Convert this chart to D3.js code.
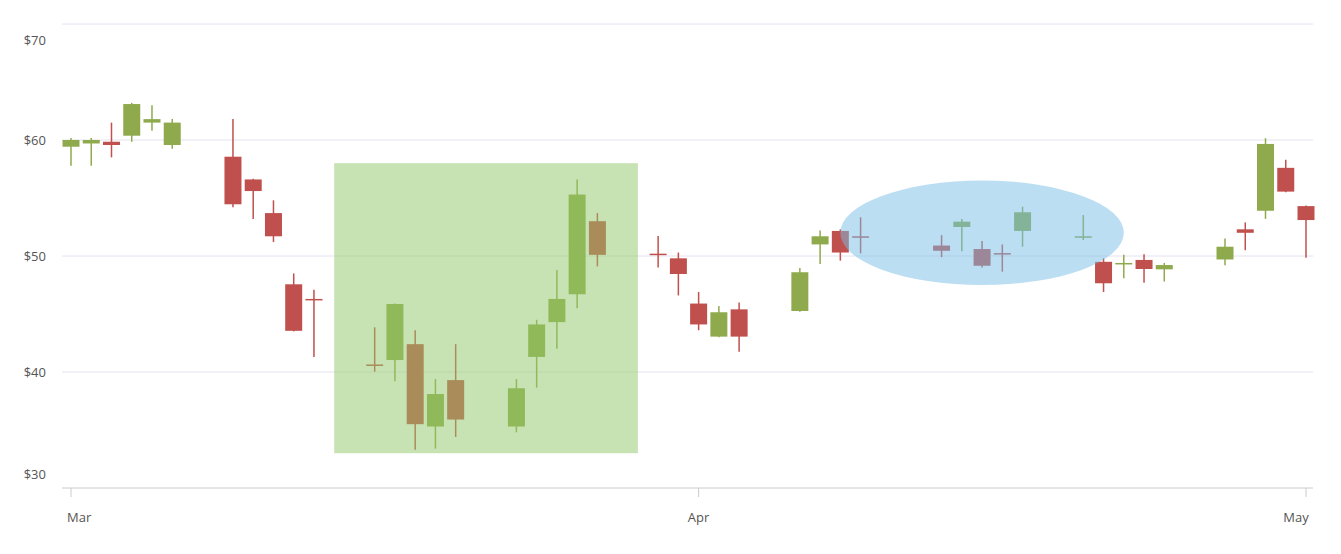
<!DOCTYPE html>
<html>
<head>
<meta charset="utf-8">
<script src="https://cdn.jsdelivr.net/npm/d3@7"></script>
<style>
body { margin: 0; background: #fff; }
text { font-family: "Segoe UI", "Open Sans", sans-serif; font-size: 13px; fill: #555; }
</style>
</head>
<body>
<svg width="1341" height="554"></svg>
<script>
var days = ['03-01','03-02','03-03','03-04','03-05','03-06','03-09','03-10','03-11','03-12','03-13',
  '03-16','03-17','03-18','03-19','03-20','03-23','03-24','03-25','03-26','03-27',
  '03-30','03-31','04-01','04-02','04-03','04-06','04-07','04-08','04-09',
  '04-13','04-14','04-15','04-16','04-17','04-20','04-21','04-22','04-23','04-24',
  '04-27','04-28','04-29','04-30','05-01'];
var open  = [59.42,59.7,59.85,60.37,61.5,59.57,58.56,56.6,53.7,47.56,46.3,40.65,41.03,42.4,35.3,39.3,35.3,41.3,44.3,46.7,53.0,50.2,49.8,45.9,43.05,45.4,45.26,51.0,52.16,51.7,50.9,52.5,50.6,50.25,52.16,51.65,49.5,49.35,49.66,48.85,49.7,52.3,53.9,57.6,54.3];
var high  = [60.17,60.17,61.5,63.2,63.0,61.8,61.8,56.65,54.8,48.5,47.1,43.85,45.9,43.6,39.4,42.4,39.4,44.5,48.8,56.6,53.7,51.72,50.3,46.9,45.7,46.0,48.97,52.2,52.3,53.34,51.8,53.2,51.3,51.0,54.25,53.53,49.8,50.1,50.15,49.4,51.5,52.9,60.15,58.3,54.35];
var low   = [57.78,57.78,58.5,59.85,60.8,59.25,54.2,53.2,51.2,43.5,41.3,40.03,39.2,33.3,33.4,34.4,34.8,38.65,42.0,45.5,49.1,49.0,46.6,43.6,43.0,41.75,45.2,49.3,49.6,50.23,49.9,50.4,49.0,48.65,50.8,51.38,46.9,48.08,47.7,47.8,49.2,50.5,53.2,55.5,49.85];
var close = [60.0,60.0,59.57,63.1,61.8,61.5,54.46,55.6,51.7,43.55,46.2,40.6,45.86,35.5,38.1,35.9,38.6,44.1,46.3,55.3,50.1,50.15,48.45,44.1,45.15,43.05,48.6,51.7,50.3,51.65,50.45,52.96,49.16,50.2,53.77,51.7,47.65,49.4,48.88,49.22,50.8,52.0,59.66,55.55,53.1];
var yTicks = [30, 40, 50, 60, 70];
var xTicks = ['2015-03-01', '2015-04-01', '2015-05-01'];
var rangeBox = { from: '2015-03-14', to: '2015-03-29', top: 58, bottom: 33 };
var ellipse = { center: '2015-04-15', halfDays: 7, mid: 52, half: 4.5 };

var data = days.map(function(d, i) {
  return { date: new Date('2015-' + d + 'T00:00:00Z'), o: open[i], h: high[i], l: low[i], c: close[i] };
});

var svg = d3.select('svg');
var x = d3.scaleUtc().domain([new Date('2015-03-01T00:00:00Z'), new Date('2015-05-01T00:00:00Z')]).range([71, 1306]);
var y = d3.scaleLinear().domain([30, 70]).range([488, 24]);

// grid
svg.selectAll('.grid').data(yTicks).enter().append('line')
  .attr('x1', 62).attr('x2', 1313)
  .attr('y1', function(d) { return y(d); }).attr('y2', function(d) { return y(d); })
  .attr('stroke', function(d) { return d == 30 ? '#ccc' : '#e4e2ee'; });

svg.selectAll('.ylab').data(yTicks).enter().append('text')
  .attr('x', 46).attr('text-anchor', 'end')
  .attr('y', function(d) { return Math.min(479, Math.max(45, y(d) + 5)); })
  .text(function(d) { return '$' + d; });

var xt = xTicks.map(function(s) { return new Date(s + 'T00:00:00Z'); });
svg.selectAll('.xtick').data(xt).enter().append('line')
  .attr('x1', function(d) { return x(d); }).attr('x2', function(d) { return x(d); })
  .attr('y1', 488).attr('y2', 497).attr('stroke', '#ccc');
svg.selectAll('.xlab').data(xt).enter().append('text')
  .attr('x', function(d, i) { return x(d) + (i == 0 ? -4 : i == 2 ? -10 : 0); })
  .attr('y', 522).attr('text-anchor', function(d, i) { return i == 0 ? 'start' : 'middle'; })
  .text(d3.utcFormat('%b'));

// candles
var color = function(d) { return d.c >= d.o ? '#8faa4c' : '#c0504d'; };
var g = svg.selectAll('.candle').data(data).enter().append('g');
g.append('line')
  .attr('x1', function(d) { return x(d.date); }).attr('x2', function(d) { return x(d.date); })
  .attr('y1', function(d) { return y(d.h); }).attr('y2', function(d) { return y(d.l); })
  .attr('stroke', color).attr('stroke-width', 1.5);
g.append('rect')
  .attr('x', function(d) { return x(d.date) - 8.5; }).attr('width', 17)
  .attr('y', function(d) { return y(Math.max(d.o, d.c)); })
  .attr('height', function(d) { return Math.max(1.5, Math.abs(y(d.o) - y(d.c))); })
  .attr('fill', color);

// annotations
svg.append('rect')
  .attr('x', x(new Date(rangeBox.from + 'T00:00:00Z')))
  .attr('width', x(new Date(rangeBox.to + 'T00:00:00Z')) - x(new Date(rangeBox.from + 'T00:00:00Z')))
  .attr('y', y(rangeBox.top)).attr('height', y(rangeBox.bottom) - y(rangeBox.top))
  .attr('fill', 'rgb(146,200,104)').attr('fill-opacity', 0.5);

var ec = new Date(ellipse.center + 'T00:00:00Z');
svg.append('ellipse')
  .attr('cx', x(ec))
  .attr('rx', x(d3.utcDay.offset(ec, ellipse.halfDays)) - x(ec))
  .attr('cy', y(ellipse.mid)).attr('ry', y(ellipse.mid - ellipse.half) - y(ellipse.mid))
  .attr('fill', 'rgb(120,190,230)').attr('fill-opacity', 0.5);
</script>
</body>
</html>
